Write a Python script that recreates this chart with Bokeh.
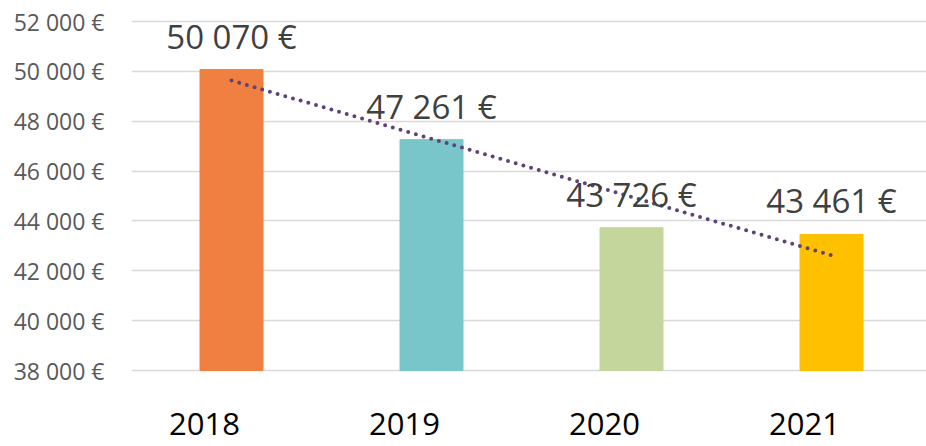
import numpy as np
from bokeh.plotting import figure
from bokeh.models import Range1d, FixedTicker, ColumnDataSource, LabelSet
from bokeh.core.properties import value
from bokeh.embed import file_html
from bokeh.resources import INLINE

# ---- data ----
years = ["2018", "2019", "2020", "2021"]
amounts = [50070, 47261, 43726, 43461]
bar_colors = ["#F08041", "#78C6C9", "#C4D69B", "#FFC000"]
y_ticks = [38000, 40000, 42000, 44000, 46000, 48000, 50000, 52000]
y_tick_labels = ["38 000 €", "40 000 €", "42 000 €", "44 000 €",
                 "46 000 €", "48 000 €", "50 000 €", "52 000 €"]

idx = list(range(1, len(years) + 1))
labels = [f"{v:,}".replace(",", " ") + " €" for v in amounts]

# layout: value axis 38000..52000 spans 349 px, with 21 px above and 76 px below
W, H = 926, 446
LEFT, TOP_PAD, BOTTOM_PAD = 131, 21, 76
y_lo, y_hi = y_ticks[0], y_ticks[-1]
per_px = (y_hi - y_lo) / (H - TOP_PAD - BOTTOM_PAD)
y_start = y_lo - BOTTOM_PAD * per_px
y_end = y_hi + TOP_PAD * per_px

p = figure(width=W, height=H, output_backend="svg", toolbar_location=None,
           x_range=Range1d(0.5, 0.5 + (W - LEFT) / 200), y_range=Range1d(y_start, y_end),
           min_border_left=LEFT, min_border_right=0, min_border_top=0,
           min_border_bottom=0)
p.outline_line_color = None
p.background_fill_color = "white"

src = ColumnDataSource(dict(x=idx, top=amounts, base=[y_lo] * len(idx),
                            color=bar_colors, label=labels, year=years))
p.vbar(x="x", top="top", bottom=y_lo, width=0.315, color="color", source=src)

# linear trend line (Excel-style) derived from the data
slope, intercept = np.polyfit(idx, amounts, 1)
tx = [idx[0], idx[-1]]
ty = [slope * t + intercept for t in tx]
p.line(tx, ty, line_color="#5E4379", line_width=4, line_dash="0 8", line_cap="round")

value_labels = LabelSet(x="x", y="top", text="label", source=src, text_align="center",
                        text_baseline="alphabetic", y_offset=21,
                        text_font=value("Open Sans"), text_font_size="33px",
                        text_color="#404040")
p.add_layout(value_labels)

year_labels = LabelSet(x="x", y="base", text="year", source=src, text_align="center",
                       text_baseline="alphabetic", x_offset=-27, y_offset=-64,
                       text_font=value("Open Sans"), text_font_size="31px",
                       text_color="#000000")
p.add_layout(year_labels)

# axes
p.xaxis.visible = False

p.yaxis.ticker = FixedTicker(ticks=y_ticks)
p.yaxis.major_label_overrides = {t: l for t, l in zip(y_ticks, y_tick_labels)}
p.yaxis.major_label_text_font = "Open Sans"
p.yaxis.major_label_text_font_size = "23px"
p.yaxis.major_label_text_color = "#595959"
p.yaxis.major_label_standoff = 21
p.yaxis.axis_line_color = None
p.yaxis.major_tick_line_color = None
p.yaxis.minor_tick_line_color = None

p.xgrid.grid_line_color = None
p.ygrid.grid_line_color = "#D9D9D9"
p.ygrid.grid_line_width = 1.5
p.ygrid.ticker = FixedTicker(ticks=y_ticks)

open("out.html", "w").write(file_html(p, INLINE))
